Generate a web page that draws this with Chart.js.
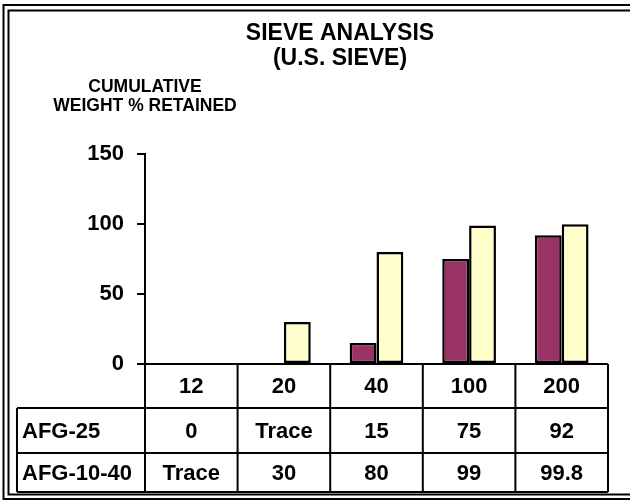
<!DOCTYPE html>
<html>
<head>
<meta charset="utf-8">
<script src="https://cdn.jsdelivr.net/npm/chart.js@4/dist/chart.umd.min.js"></script>
<style>
  html, body { margin: 0; padding: 0; background: #fff; }
  #wrap { width: 630px; height: 501px; position: relative; }
</style>
</head>
<body>
<div id="wrap"><canvas id="c" width="630" height="501"></canvas></div>
<script>
// ---- data ----
const categories = ['12', '20', '40', '100', '200'];
const seriesNames = ['AFG-25', 'AFG-10-40'];
const afg25Values = [0, 0, 15, 75, 92];
const afg1040Values = [0, 30, 80, 99, 99.8];
const afg25TableText = ['0', 'Trace', '15', '75', '92'];
const afg1040TableText = ['Trace', '30', '80', '99', '99.8'];
const yTicks = [0, 50, 100, 150];
const titleLines = ['SIEVE ANALYSIS', '(U.S. SIEVE)'];
const yTitleLines = ['CUMULATIVE', 'WEIGHT % RETAINED'];

const FONT = "'Liberation Sans', Arial, Helvetica, sans-serif";

const framePlugin = {
  id: 'frame',
  beforeDraw(chart) {
    const ctx = chart.ctx;
    ctx.save();
    ctx.fillStyle = '#fff';
    ctx.fillRect(0, 0, chart.width, chart.height);
    ctx.strokeStyle = '#000';
    ctx.lineWidth = 2;
    // outer frame
    ctx.beginPath();
    ctx.moveTo(chart.width + 5, 5);
    ctx.lineTo(3.5, 5);
    ctx.lineTo(3.5, 499);
    ctx.lineTo(chart.width + 5, 499);
    ctx.stroke();
    // inner frame
    ctx.beginPath();
    ctx.moveTo(chart.width + 5, 10.5);
    ctx.lineTo(8.5, 10.5);
    ctx.lineTo(8.5, 494.5);
    ctx.lineTo(chart.width + 5, 494.5);
    ctx.stroke();
    ctx.restore();
  },
  afterDraw(chart) {
    const ctx = chart.ctx;
    const ca = chart.chartArea;
    const xs = chart.scales.x;
    const n = categories.length;
    const colW = (xs.right - xs.left) / n;
    const top = ca.bottom;
    const rowTops = [top, top + 44, top + 89, top + 128];
    const tableLeft = 17;
    ctx.save();
    ctx.strokeStyle = '#000';
    ctx.lineWidth = 2;
    // y axis title
    ctx.fillStyle = '#000';
    ctx.font = 'bold 17.5px ' + FONT;
    ctx.textAlign = 'center';
    ctx.textBaseline = 'middle';
    ctx.fillText(yTitleLines[0], 145, 87);
    ctx.fillText(yTitleLines[1], 145, 106);
    // axis line / header top
    ctx.beginPath();
    ctx.moveTo(ca.left, top);
    ctx.lineTo(xs.right, top);
    // horizontal rows
    for (let r = 1; r < rowTops.length; r++) {
      ctx.moveTo(tableLeft, rowTops[r]);
      ctx.lineTo(xs.right, rowTops[r]);
    }
    // vertical column boundaries
    for (let i = 0; i <= n; i++) {
      const x = xs.left + i * colW;
      ctx.moveTo(x, top);
      ctx.lineTo(x, rowTops[3]);
    }
    ctx.moveTo(tableLeft, rowTops[1]);
    ctx.lineTo(tableLeft, rowTops[3]);
    ctx.stroke();
    // texts
    ctx.font = 'bold 22px ' + FONT;
    ctx.textBaseline = 'middle';
    const rowsText = [categories, afg25TableText, afg1040TableText];
    for (let r = 0; r < 3; r++) {
      const cy = (rowTops[r] + rowTops[r + 1]) / 2 + 1;
      ctx.textAlign = 'center';
      for (let i = 0; i < n; i++) {
        const cx = xs.getPixelForValue(i);
        ctx.fillText(rowsText[r][i], cx, cy);
      }
      if (r > 0) {
        ctx.textAlign = 'left';
        ctx.fillText(seriesNames[r - 1], tableLeft + 5, cy);
      }
    }
    ctx.restore();
  }
};

new Chart(document.getElementById('c'), {
  type: 'bar',
  data: {
    labels: categories,
    datasets: [
      { label: seriesNames[0], data: afg25Values, backgroundColor: '#993366', borderColor: '#000', borderWidth: 2.5, borderSkipped: false },
      { label: seriesNames[1], data: afg1040Values, backgroundColor: '#FFFFCC', borderColor: '#000', borderWidth: 2.5, borderSkipped: false }
    ]
  },
  options: {
    responsive: false,
    animation: false,
    devicePixelRatio: 1,
    layout: { padding: { top: 0, left: 72, right: 22, bottom: 137 } },
    datasets: { bar: { categoryPercentage: 0.58, barPercentage: 1 } },
    plugins: {
      legend: { display: false },
      tooltip: { enabled: false },
      title: {
        display: true,
        text: titleLines,
        color: '#000',
        font: { family: FONT, size: 23, weight: 'bold', lineHeight: 1.09 },
        padding: { top: 21, bottom: 83 }
      }
    },
    scales: {
      x: { display: false, offset: true },
      y: {
        min: 0, max: 150,
        afterBuildTicks: (s) => { s.ticks = yTicks.map(v => ({ value: v })); },
        afterFit: (s) => { s.width = 73; },
        grid: { drawOnChartArea: false, drawTicks: true, tickLength: 8, color: '#000', lineWidth: 2 },
        border: { display: true, color: '#000', width: 2 },
        ticks: { color: '#000', padding: 13, font: { family: FONT, size: 22, weight: 'bold' } }
      }
    }
  },
  plugins: [framePlugin]
});
</script>
</body>
</html>
